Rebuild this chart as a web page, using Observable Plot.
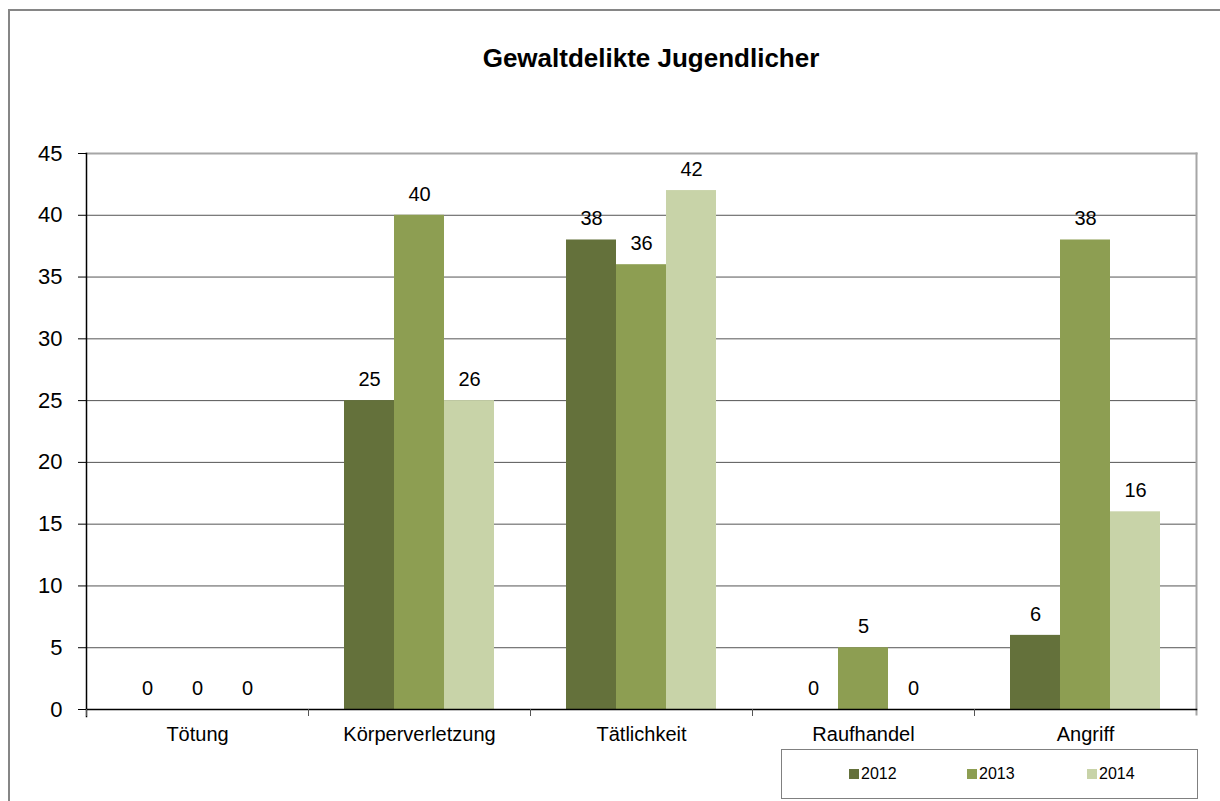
<!DOCTYPE html>
<html>
<head>
<meta charset="utf-8">
<script src="https://cdn.jsdelivr.net/npm/d3@7"></script>
<script src="https://cdn.jsdelivr.net/npm/@observablehq/plot@0.6"></script>
<style>
  html, body { margin: 0; padding: 0; background: #fff; }
  body { width: 1220px; height: 801px; overflow: hidden; position: relative; font-family: "Liberation Sans", Arial, Helvetica, sans-serif; }
  #outer { position: absolute; left: 8px; top: 9px; width: 1300px; height: 900px; border-left: 2px solid #868686; border-top: 2px solid #868686; box-sizing: border-box; }
  #title { position: absolute; left: 0; top: 43px; width: 1302px; text-align: center; font-size: 26px; font-weight: bold; line-height: 30px; color: #000; }
  #chart { position: absolute; left: 0; top: 0; }
  #legend { position: absolute; left: 781px; top: 749px; width: 417px; height: 50px; border: 1px solid #808080; box-sizing: border-box; background: #fff; }
  .item { position: absolute; top: 15px; font-size: 16px; line-height: 18px; color: #000; }
  .sw { display: inline-block; width: 10px; height: 10px; margin-right: 2px; vertical-align: 0px; }
</style>
</head>
<body>
<div id="outer"></div>
<div id="title">Gewaltdelikte Jugendlicher</div>
<div id="chart"></div>
<div id="legend"></div>
<script>
const categories = ["Tötung", "Körperverletzung", "Tätlichkeit", "Raufhandel", "Angriff"];
const years = ["2012", "2013", "2014"];
const values2012 = [0, 25, 38, 0, 6];
const values2013 = [0, 40, 36, 5, 38];
const values2014 = [0, 25, 42, 0, 16];
const labels2012 = ["0", "25", "38", "0", "6"];
const labels2013 = ["0", "40", "36", "5", "38"];
const labels2014 = ["0", "26", "42", "0", "16"];
const yTicks = [0, 5, 10, 15, 20, 25, 30, 35, 40, 45];
const colors = ["#64713b", "#8d9e52", "#c8d3a8"];

const seriesValues = [values2012, values2013, values2014];
const seriesLabels = [labels2012, labels2013, labels2014];
const rows = [];
categories.forEach((c, i) => {
  years.forEach((y, j) => {
    rows.push({category: c, year: y, value: seriesValues[j][i], label: seriesLabels[j][i]});
  });
});

const W = 1220, H = 801, mL = 86, mR = 24, mT = 153, mB = 92;
const step = (W - mL - mR) / categories.length;
const font = '"Liberation Sans", Arial, Helvetica, sans-serif';

const chart = Plot.plot({
  width: W,
  height: H,
  marginLeft: mL,
  marginRight: mR,
  marginTop: mT,
  marginBottom: mB,
  style: {fontFamily: font, color: "#000", background: "transparent", overflow: "visible"},
  fx: {domain: categories, padding: 0, axis: null},
  x: {domain: years, paddingInner: 0, paddingOuter: 0.72, axis: null},
  y: {domain: [0, 45], axis: null},
  color: {domain: years, range: colors},
  marks: [
    Plot.ruleY(yTicks.filter(t => t > 0 && t < 45), {stroke: "#555555", strokeWidth: 1}),
    Plot.barY(rows, {fx: "category", x: "year", y: "value", fill: "year"}),
    Plot.text(rows, {fx: "category", x: "year", y: "value", text: "label", dy: -21, fontSize: 20, fill: "#000"}),
    Plot.frame({facet: "super", anchor: "top", stroke: "#a6a6a6", strokeWidth: 2}),
    Plot.frame({facet: "super", anchor: "right", stroke: "#a6a6a6", strokeWidth: 2, insetBottom: -5}),
    Plot.frame({facet: "super", anchor: "left", stroke: "#000", strokeWidth: 1.5, insetBottom: -7}),
    Plot.frame({facet: "super", anchor: "bottom", stroke: "#000", strokeWidth: 1.5}),
    Plot.axisY({ticks: yTicks, tickSize: 8, tickPadding: 16, fontSize: 22, label: null, tickFormat: d => String(d)}),
    Plot.axisFx({anchor: "bottom", tickSize: 0, tickPadding: 17, fontSize: 20, label: null}),
    Plot.axisFx({anchor: "bottom", tickSize: 7, tickFormat: () => "", label: null, dx: -step / 2, stroke: "#555"})
  ]
});
document.getElementById("chart").appendChild(chart);

// legend
const legend = document.getElementById("legend");
const legendX = [67, 185, 305];
years.forEach((y, j) => {
  const d = document.createElement("div");
  d.className = "item";
  d.style.left = legendX[j] + "px";
  d.innerHTML = `<span class="sw" style="background:${colors[j]}"></span>${y}`;
  legend.appendChild(d);
});
</script>
</body>
</html>
